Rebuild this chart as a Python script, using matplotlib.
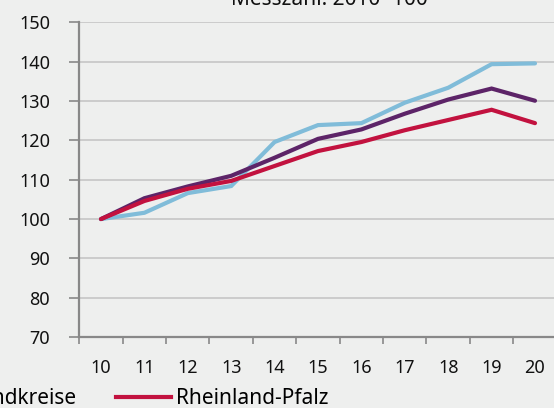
import matplotlib
matplotlib.use("Agg")
import matplotlib.pyplot as plt
from matplotlib.lines import Line2D
from matplotlib.ticker import FixedLocator

plt.rcParams["font.family"] = ["Noto Sans", "DejaVu Sans"]

years = ["10", "11", "12", "13", "14", "15", "16", "17", "18", "19", "20"]
kreisfreie = [100, 101.6, 106.6, 108.4, 119.6, 123.9, 124.4, 129.6, 133.4, 139.4, 139.6]
landkreise = [100, 105.3, 108.3, 111.0, 115.6, 120.4, 122.8, 126.8, 130.4, 133.2, 130.1]
rlp = [100, 104.6, 107.7, 109.7, 113.5, 117.3, 119.6, 122.6, 125.2, 127.8, 124.4]
labels = ["Kreisfreie Städte", "Landkreise", "Rheinland-Pfalz"]
title = "Messzahl: 2010=100"

BG = "#eeefee"
C_BLUE = "#80bcd9"
C_PURPLE = "#5d2468"
C_RED = "#c2123f"

fig = plt.figure(figsize=(5.54, 4.08), dpi=100, facecolor=BG)
ax = fig.add_axes([79.3 / 554, 1 - 337 / 408, 477.4 / 554, (337 - 22.5) / 408])
ax.set_facecolor(BG)

x = list(range(len(years)))
for vals, c in [(kreisfreie, C_BLUE), (landkreise, C_PURPLE), (rlp, C_RED)]:
    ax.plot(x, vals, color=c, lw=3.0, solid_capstyle="round", solid_joinstyle="miter", zorder=3)

ax.set_xlim(-0.5, len(years) - 0.5)
ax.set_ylim(70, 150)
ax.set_yticks(range(70, 151, 10))
ax.yaxis.grid(True, color="#c6c6c6", lw=1.2)
ax.set_axisbelow(True)

ax.set_xticks(x)
ax.set_xticklabels(years)
ax.xaxis.set_minor_locator(FixedLocator([i - 0.5 for i in range(len(years) + 1)]))
ax.tick_params(axis="x", which="major", length=0, pad=16, labelsize=13, colors="#111111")
ax.tick_params(axis="x", which="minor", length=5, width=1.2, color="#888888")
ax.tick_params(axis="y", length=7, width=1.2, color="#888888", pad=14, labelsize=13,
               labelcolor="#111111")

for s in ["top", "right"]:
    ax.spines[s].set_visible(False)
for s in ["left", "bottom"]:
    ax.spines[s].set_color("#888888")
    ax.spines[s].set_linewidth(1.6)

fig.text(329 / 554, 1 - 5 / 408, title, ha="center", va="baseline", fontsize=15,
         color="#111111")

handles = [Line2D([], [], color=c, lw=3.0) for c in (C_BLUE, C_PURPLE, C_RED)]
fig.legend(handles, labels, ncol=3, frameon=False, loc="center right",
           bbox_to_anchor=(328 / 554, 1 - 399 / 408), borderpad=0, borderaxespad=0,
           handlelength=2.65, handletextpad=0.2, columnspacing=1.9, fontsize=15)

fig.savefig("out.png", dpi=100, facecolor=BG)
